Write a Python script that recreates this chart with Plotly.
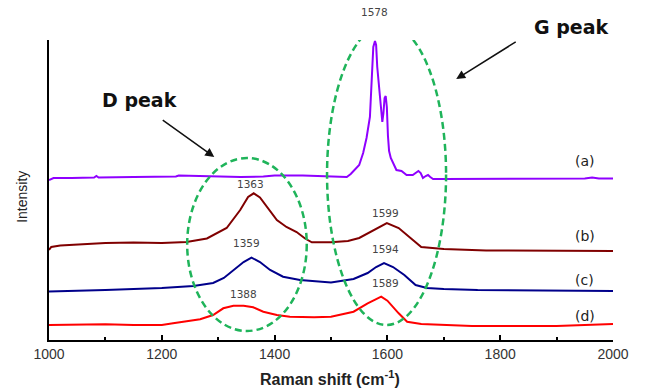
import plotly.graph_objects as go

# ---- data ----
a_x = [1000, 1008, 1040, 1080, 1084, 1088, 1150, 1200, 1225, 1230, 1300, 1340, 1380, 1400, 1450, 1500,
       1528, 1535, 1540, 1550, 1557, 1563, 1569, 1572, 1575, 1578, 1580, 1582, 1585, 1588, 1591, 1593,
       1595, 1597, 1599, 1601, 1603, 1606, 1610, 1616, 1625, 1634, 1645, 1651, 1655, 1659, 1663, 1668,
       1672, 1676, 1681, 1700, 1760, 1800, 1880, 1900, 1950, 1963, 1967, 1975, 2000]
a_y = [161, 163, 163, 163.5, 165, 163.5, 164, 164, 164.5, 165.5, 164.5, 164, 164.5, 165.5, 165.5, 165,
       164, 167, 170, 176, 188, 203, 224, 260, 294, 300, 296, 274, 255, 235, 219, 228,
       243, 245, 234, 205, 190, 183, 178, 171, 170, 166, 166, 168, 170, 168, 163, 165,
       166, 164, 162, 162, 162, 162, 162.5, 162.5, 162.5, 163.5, 163, 162.5, 162.5]

b_x = [1000, 1004, 1020, 1060, 1100, 1150, 1200, 1244, 1280, 1315, 1339, 1353, 1363, 1374, 1386, 1404,
       1421, 1439, 1454, 1466, 1500, 1530, 1550, 1575, 1599, 1620, 1640, 1660, 1700, 1775, 2000]
b_y = [91, 94, 95.5, 97, 98, 98.5, 98, 99, 102.5, 113, 131, 144, 147.7, 143.5, 134, 121,
       114, 109, 102.5, 98.7, 98.7, 100, 103, 111, 118, 113, 103, 94, 92, 90.5, 90]

c_x = [1000, 1050, 1100, 1150, 1200, 1256, 1291, 1310, 1327, 1345, 1359, 1374, 1392, 1415, 1445, 1480,
       1500, 1540, 1565, 1580, 1594, 1610, 1630, 1650, 1670, 1700, 1760, 2000]
c_y = [49.5, 50, 51, 52, 53, 55, 58, 63, 71, 79, 83.3, 79, 71, 64.3, 61, 59,
       58.5, 62, 68, 74, 78, 74, 66, 56, 53, 52, 51, 50]

d_x = [1000, 1100, 1150, 1200, 1220, 1268, 1291, 1309, 1327, 1345, 1362, 1380, 1404, 1427, 1470, 1500,
       1540, 1565, 1589, 1600, 1620, 1635, 1660, 1700, 1750, 1900, 2000]
d_y = [16, 16.7, 16, 16, 17.7, 21.7, 26, 32.7, 35.3, 35.3, 33.7, 29.3, 26, 24.3, 23.7, 24.3,
       29.3, 37.7, 44.3, 40.3, 27.7, 19.3, 17, 16, 15, 15, 17]

series_names = ["(a)", "(b)", "(c)", "(d)"]
series_colors = ["#8f00ff", "#800000", "#00008b", "#ff0000"]
series_label_pos = [(1950, 180), (1951, 105), (1950, 61), (1951, 25)]

peak_labels = ["1578", "1363", "1599", "1359", "1594", "1388", "1589"]
peak_label_pos = [(1578, 329), (1358, 157), (1597, 128), (1350, 97.7), (1597, 91.7), (1345, 47), (1597, 58.3)]

xticks = [1000, 1200, 1400, 1600, 1800, 2000]
Y_RANGE = [1, 301]


def yp(v):
    """intensity value -> paper fraction (lets labels sit above the axis top)"""
    return (v - Y_RANGE[0]) / (Y_RANGE[1] - Y_RANGE[0])


def label(x, y, text, size, color, family="DejaVu Sans", xref="x", **kw):
    return dict(x=x, y=y, xref=xref, yref="paper", text=text, showarrow=False,
                xanchor="center", yanchor="middle",
                font=dict(family=family, size=size, color=color), **kw)


fig = go.Figure()
for xs, ys, nm, col in zip([a_x, b_x, c_x, d_x], [a_y, b_y, c_y, d_y], series_names, series_colors):
    fig.add_trace(go.Scatter(x=xs, y=ys, mode="lines", name=nm,
                             line=dict(color=col, width=2), showlegend=False))

ann = []
for t, (x, y) in zip(series_names, series_label_pos):
    ann.append(label(x, yp(y), t, 14, "#222"))
for t, (x, y) in zip(peak_labels, peak_label_pos):
    ann.append(label(x, yp(y), t, 10.5, "#444"))

# peak region call-outs
ann.append(label(1161, yp(241), "<b>D peak</b>", 19, "#111"))
ann.append(label(1926, yp(314), "<b>G peak</b>", 19, "#111"))
ann.append(dict(x=1293, y=184, xref="x", yref="y", ax=-53, ay=-38, axref="pixel", ayref="pixel",
                text="", showarrow=True, arrowhead=2, arrowsize=1.2, arrowwidth=1.5, arrowcolor="#111"))
ann.append(dict(x=1722, y=262, xref="x", yref="y", ax=61, ay=-38, axref="pixel", ayref="pixel",
                text="", showarrow=True, arrowhead=2, arrowsize=1.2, arrowwidth=1.5, arrowcolor="#111"))

# axis titles
ann.append(label(0.498, -0.127, "<b>Raman shift (cm<sup>-1</sup>)</b>", 16, "#222",
                 family="Liberation Sans", xref="paper"))
ann.append(label(-0.048, 0.477, "Intensity", 14, "#222", family="Liberation Sans",
                 xref="paper", textangle=-90))

shapes = [
    dict(type="circle", xref="x", yref="y", x0=1245, x1=1457, y0=10, y1=183,
         line=dict(color="#1fb45a", width=2.5, dash="7px,4px")),
    dict(type="circle", xref="x", yref="y", x0=1493, x1=1704, y0=16, y1=317,
         line=dict(color="#1fb45a", width=2.5, dash="7px,4px")),
]

fig.update_layout(
    width=647, height=390,
    margin=dict(l=49, r=34, t=40, b=50),
    paper_bgcolor="white", plot_bgcolor="white",
    annotations=ann, shapes=shapes,
    xaxis=dict(range=[1000, 2000], tickvals=xticks, ticktext=[str(v) for v in xticks],
               showline=True, linecolor="black", linewidth=2, ticks="inside", ticklen=5,
               tickcolor="black", tickwidth=1.5, showgrid=False, zeroline=False, automargin=False,
               minor=dict(dtick=100, ticks="inside", ticklen=3, tickcolor="black", tickwidth=1.5),
               tickfont=dict(family="Liberation Sans", size=14, color="#333")),
    yaxis=dict(range=Y_RANGE, showline=True, linecolor="black", linewidth=2, ticks="",
               showticklabels=False, showgrid=False, zeroline=False, automargin=False),
)

fig.write_html("out.html")
